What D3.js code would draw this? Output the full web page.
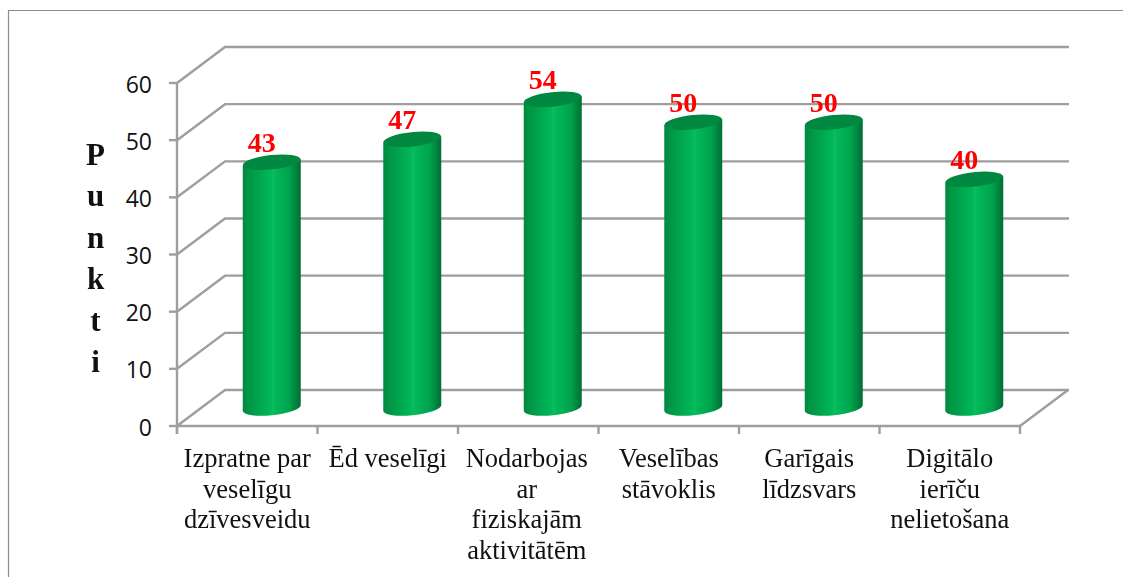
<!DOCTYPE html>
<html><head><meta charset="utf-8">
<script src="https://cdn.jsdelivr.net/npm/d3@7"></script>
<style>html,body{margin:0;padding:0;background:#fff}svg{display:block}</style>
</head><body><svg id="c" width="1123" height="577"></svg>
<script>
const categories = [
  ["Izpratne par","veselīgu","dzīvesveidu"],
  ["Ēd veselīgi"],
  ["Nodarbojas","ar","fiziskajām","aktivitātēm"],
  ["Veselības","stāvoklis"],
  ["Garīgais","līdzsvars"],
  ["Digitālo","ierīču","nelietošana"]
];
const values = [43,47,54,50,50,40];
const yTicks = [0,10,20,30,40,50,60];
const axisTitle = ["P","u","n","k","t","i"];

const svg = d3.select("#c");
const W=1123,H=577;
const depthX=48, depthY=36;
const y = d3.scaleLinear().domain([0,60]).range([426,83]);
const x = d3.scaleBand().domain(d3.range(categories.length)).range([177,1020]);
const grey="#9e9e9e";

const defs=svg.append("defs");
const g=defs.append("linearGradient").attr("id","cyl").attr("x1",0).attr("x2",1).attr("y1",0).attr("y2",0);
[[0,"#008a40"],[0.2,"#009f4b"],[0.52,"#07bb5c"],[0.8,"#00a34d"],[1,"#006e33"]].forEach(([o,c])=>g.append("stop").attr("offset",o).attr("stop-color",c));
const blur=defs.append("filter").attr("id","soft").attr("x","-5%").attr("y","-5%").attr("width","110%").attr("height","110%");
blur.append("feGaussianBlur").attr("stdDeviation",0.4);

// chart frame
svg.append("path").attr("d",`M8.5,${H}V10.5H${W}`).attr("fill","none").attr("stroke","#8c8c8c").attr("stroke-width",1.2);

// walls
const wall=svg.append("g").attr("fill","none").attr("stroke",grey).attr("stroke-width",2.4).attr("filter","url(#soft)");
yTicks.forEach(t=>{
  wall.append("path").attr("d",`M177,${y(t)}L${177+depthX},${y(t)-depthY}H${1020+depthX+1}`);
  wall.append("line").attr("x1",169).attr("x2",177).attr("y1",y(t)).attr("y2",y(t));
});
wall.append("line").attr("x1",177).attr("x2",177).attr("y1",y(60)).attr("y2",y(0)+8);
wall.append("line").attr("x1",177).attr("x2",1020).attr("y1",y(0)).attr("y2",y(0));
wall.append("line").attr("x1",1020).attr("x2",1020+depthX).attr("y1",y(0)).attr("y2",y(0)-depthY);
x.domain().concat([categories.length]).forEach(i=>{
  const px = i<categories.length? x(i): 1020;
  wall.append("line").attr("x1",px).attr("x2",px).attr("y1",y(0)).attr("y2",y(0)+8);
});

// tick labels
svg.append("g").selectAll("text").data(yTicks).join("text")
  .attr("x",152).attr("y",t=>y(t)+9.5).attr("text-anchor","end")
  .attr("font-family","'Open Sans',sans-serif").attr("font-size",23).attr("fill","#111")
  .text(d=>d);

// cylinders
const rx=29, ry=7.2, tilt=-6, off=18, cshift=25;
const bars=svg.append("g").attr("filter","url(#soft)");
values.forEach((v,i)=>{
  const cx=x(i)+cshift+x.bandwidth()/2-0.5, base=y(0)-off, top=y(v)-off;
  const ang=tilt*Math.PI/180, dy=rx*Math.sin(ang);
  bars.append("path")
    .attr("d",`M${cx-rx},${top-dy}L${cx+rx},${top+dy}L${cx+rx},${base+dy}A${rx},${ry} ${tilt} 0 1 ${cx-rx},${base-dy}Z`)
    .attr("fill","url(#cyl)");
  bars.append("ellipse").attr("cx",cx).attr("cy",top).attr("rx",rx).attr("ry",ry)
    .attr("transform",`rotate(${tilt} ${cx} ${top})`).attr("fill","#04873f");
  svg.append("text").attr("x",cx-10).attr("y",top-10.5).attr("text-anchor","middle")
    .attr("font-family","'Liberation Serif',serif").attr("font-weight","bold").attr("font-size",28).attr("fill","#ff0000").text(v);
});

// category labels
categories.forEach((lines,i)=>{
  const cx=x(i)+x.bandwidth()/2;
  const t=svg.append("text").attr("text-anchor","middle").attr("font-family","'Liberation Serif',serif").attr("font-size",26.5).attr("fill","#111");
  lines.forEach((l,j)=>t.append("tspan").attr("x",cx-(i===2?1.5:0)).attr("y",467+j*30.7).text(l));
});

// axis title
axisTitle.forEach((c,i)=>svg.append("text").attr("x",95.5).attr("y",165+i*41.4).attr("text-anchor","middle")
  .attr("font-family","'Liberation Serif',serif").attr("font-weight","bold").attr("font-size",31).attr("fill","#111").text(c));
</script></body></html>
